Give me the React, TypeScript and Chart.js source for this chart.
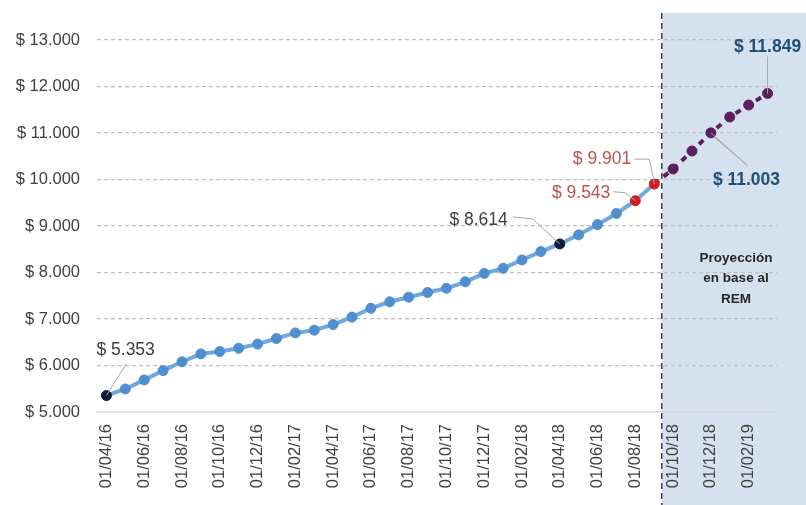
import React, { useEffect, useRef } from "react";
import { Chart, registerables } from "chart.js";

Chart.register(...registerables);

const categories: string[] = [
  "01/04/16", "01/05/16", "01/06/16", "01/07/16", "01/08/16", "01/09/16",
  "01/10/16", "01/11/16", "01/12/16", "01/01/17", "01/02/17", "01/03/17",
  "01/04/17", "01/05/17", "01/06/17", "01/07/17", "01/08/17", "01/09/17",
  "01/10/17", "01/11/17", "01/12/17", "01/01/18", "01/02/18", "01/03/18",
  "01/04/18", "01/05/18", "01/06/18", "01/07/18", "01/08/18", "01/09/18",
  "01/10/18", "01/11/18", "01/12/18", "01/01/19", "01/02/19", "01/03/19",
];

const historicalValues: (number | null)[] = [
  5353, 5495, 5690, 5890, 6080, 6250, 6300, 6370, 6460, 6580,
  6700, 6760, 6880, 7040, 7230, 7370, 7470, 7570, 7660, 7800,
  7980, 8090, 8270, 8450, 8614, 8810, 9030, 9270, 9543, 9901,
  null, null, null, null, null, null,
];

const projectionValues: (number | null)[] = [
  null, null, null, null, null, null, null, null, null, null,
  null, null, null, null, null, null, null, null, null, null,
  null, null, null, null, null, null, null, null, null, 9901,
  10226, 10613, 11003, 11344, 11602, 11849,
];

const yTicks: number[] = [5000, 6000, 7000, 8000, 9000, 10000, 11000, 12000, 13000];
const projectionText: string[] = ["Proyección", "en base al", "REM"];

const fmt = (v: number) => {
  const s = Math.round(v).toString();
  return "$ " + s.replace(/\B(?=(\d{3})+(?!\d))/g, ".");
};

const FONT = "'Liberation Sans', Arial, sans-serif";

export default function App() {
  const ref = useRef<HTMLCanvasElement | null>(null);

  useEffect(() => {
    if (!ref.current) return;

    const bgPlugin = {
      id: "projBg",
      beforeDraw(chart: any) {
        const ctx = chart.ctx;
        const x = chart.scales.x.getPixelForValue(29.4);
        ctx.save();
        ctx.fillStyle = "#d5e1ee";
        ctx.fillRect(x, 13, chart.width - x, chart.height - 13);
        ctx.restore();
      },
      afterDraw(chart: any) {
        const ctx = chart.ctx;
        const x = chart.scales.x.getPixelForValue(29.4);
        ctx.save();
        ctx.strokeStyle = "#404040";
        ctx.lineWidth = 1.5;
        ctx.setLineDash([6, 4]);
        ctx.beginPath();
        ctx.moveTo(x, 13);
        ctx.lineTo(x, chart.height);
        ctx.stroke();
        ctx.setLineDash([]);
        ctx.fillStyle = "#262626";
        ctx.font = "bold 13.5px " + FONT;
        ctx.textAlign = "center";
        ctx.textBaseline = "middle";
        projectionText.forEach((t, i) => ctx.fillText(t, 736, 258 + i * 20.5));

        const m0 = chart.getDatasetMeta(0).data;
        const m1 = chart.getDatasetMeta(1).data;
        const labels = [
          { pt: m0[0], v: historicalValues[0], color: "#404040", bold: false, dx: -10, dy: -45, align: "left", lead: [[20, -32]] },
          { pt: m0[24], v: historicalValues[24], color: "#404040", bold: false, dx: -52, dy: -24, align: "right", lead: [[-47, -27], [-27, -25]] },
          { pt: m0[28], v: historicalValues[28], color: "#c0504d", bold: false, dx: -25, dy: -8, align: "right", lead: [[-22, -9], [-10, -8]] },
          { pt: m0[29], v: historicalValues[29], color: "#c0504d", bold: false, dx: -23, dy: -25, align: "right", lead: [[-20, -25], [-5, -25], [-1, -7]] },
          { pt: m1[35], v: projectionValues[35], color: "#1f4e79", bold: true, dx: 0, dy: -46, align: "center", lead: [[0, -37], [0, -6]] },
          { pt: m1[32], v: projectionValues[32], color: "#1f4e79", bold: true, dx: 2, dy: 47, align: "left", lead: [[3, 4], [37, 33]] },
        ];
        labels.forEach((l) => {
          const px = l.pt.x, py = l.pt.y;
          ctx.strokeStyle = "#a6a6a6";
          ctx.lineWidth = 1;
          ctx.beginPath();
          ctx.moveTo(px, py);
          l.lead.slice().reverse().forEach((p: number[]) => ctx.lineTo(px + p[0], py + p[1]));
          ctx.stroke();
          ctx.fillStyle = l.color;
          ctx.font = (l.bold ? "bold " : "") + "17.5px " + FONT;
          ctx.textAlign = l.align as CanvasTextAlign;
          ctx.textBaseline = "middle";
          ctx.fillText(fmt(l.v as number), px + l.dx, py + l.dy);
        });
        ctx.restore();
      },
    };

    const pointColor = (ctx: any) => {
      const i = ctx.dataIndex;
      if (i === 0 || i === 24) return "#0e1a38";
      if (i === 28 || i === 29) return "#d21c24";
      return "#4f8fd0";
    };

    const chart = new Chart(ref.current, {
      type: "line",
      data: {
        labels: categories,
        datasets: [
          {
            data: historicalValues,
            borderColor: "#6fa8dc",
            borderWidth: 4,
            pointRadius: 5,
            pointHoverRadius: 5,
            pointBackgroundColor: pointColor,
            pointBorderColor: pointColor,
            pointBorderWidth: 1,
            tension: 0,
            order: 1,
          },
          {
            data: projectionValues,
            borderColor: "#5a1f5c",
            borderWidth: 4,
            borderDash: [6, 6],
            pointRadius: (c: any) => (c.dataIndex === 29 ? 0 : 5),
            pointBackgroundColor: "#5a1f5c",
            pointBorderColor: "#5a1f5c",
            pointBorderWidth: 1,
            tension: 0,
            order: 2,
          },
        ],
      },
      options: {
        animation: false,
        responsive: false,
        maintainAspectRatio: false,
        events: [],
        layout: { padding: { left: 0, right: 29, top: 40, bottom: 0 } },
        plugins: { legend: { display: false }, tooltip: { enabled: false } },
        scales: {
          x: {
            type: "category",
            offset: true,
            grid: { display: false, drawTicks: false },
            border: { display: true, color: "#d9d9d9", width: 1.5 },
            ticks: {
              autoSkip: false,
              maxRotation: 90,
              minRotation: 90,
              padding: 12,
              color: "#404040",
              font: { family: FONT, size: 16.5 },
              callback: (_v: any, i: number) => (i % 2 === 0 ? categories[i] : ""),
            },
            afterFit: (s: any) => {
              s.height = 93;
            },
          },
          y: {
            min: yTicks[0],
            max: yTicks[yTicks.length - 1],
            afterBuildTicks: (s: any) => {
              s.ticks = yTicks.map((v) => ({ value: v }));
            },
            grid: {
              drawTicks: false,
              color: (c: any) => (c.tick && c.tick.value === yTicks[0] ? "rgba(0,0,0,0)" : "#bfbfbf"),
              lineWidth: 1.2,
            },
            border: { display: false, dash: [4, 3] },
            ticks: {
              padding: 17,
              color: "#404040",
              font: { family: FONT, size: 16.5 },
              callback: (v: any) => fmt(Number(v)),
            },
            afterFit: (s: any) => {
              s.width = 97;
            },
          },
        },
      },
      plugins: [bgPlugin],
    } as any);

    return () => chart.destroy();
  }, []);

  return (
    <div style={{ position: "fixed", left: 0, top: 0, width: 806, height: 505, background: "#ffffff" }}>
      <canvas ref={ref} width={806} height={505} style={{ width: 806, height: 505 }} />
    </div>
  );
}
